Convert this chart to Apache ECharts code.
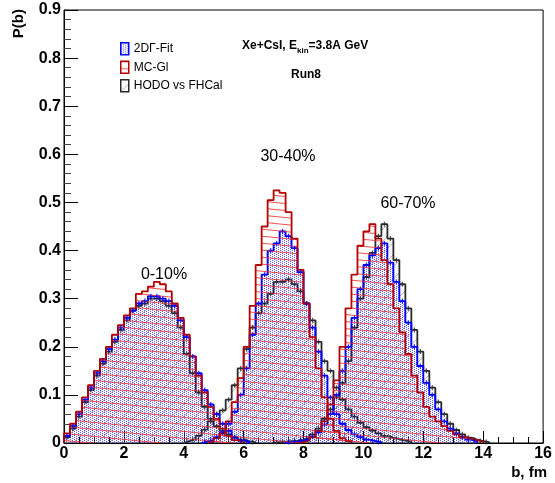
<!DOCTYPE html>
<html>
<head>
<meta charset="utf-8">
<script src="https://cdn.jsdelivr.net/npm/echarts@6/dist/echarts.min.js"></script>
<style>
  html, body { margin: 0; padding: 0; background: #fff; }
  #main { width: 555px; height: 483px; }
</style>
</head>
<body>
<div id="main"></div>
<script>
// all histograms have the same bin width, fm
var binWidth = 0.2;

// 0-10%
var fit0Start = 0.0;
var fit0 = [0.015,0.035,0.06,0.09,0.115,0.145,0.17,0.195,0.215,0.24,0.26,0.275,0.29,0.295,0.305,0.305,0.3,0.295,0.285,0.255,0.22,0.18,0.145,0.11,0.08,0.06,0.04,0.025,0.012,0.005,0.002];
var mc0Start = 0.0;
var mc0 = [0.02,0.04,0.065,0.095,0.12,0.15,0.175,0.2,0.225,0.245,0.265,0.28,0.31,0.315,0.325,0.335,0.33,0.315,0.29,0.26,0.225,0.18,0.14,0.105,0.075,0.05,0.03,0.015,0.006,0.002];
var hodo0Start = 0.0;
var hodo0 = [0.012,0.03,0.055,0.085,0.11,0.14,0.165,0.19,0.21,0.235,0.255,0.275,0.285,0.29,0.3,0.3,0.295,0.285,0.27,0.24,0.185,0.145,0.105,0.075,0.05,0.035,0.025,0.018,0.012,0.007,0.004,0.002];

// 30-40%
var fit30Start = 4.6;
var fit30 = [0.003,0.006,0.012,0.022,0.04,0.065,0.1,0.155,0.225,0.29,0.35,0.4,0.415,0.44,0.43,0.405,0.355,0.29,0.24,0.19,0.14,0.095,0.06,0.04,0.027,0.018,0.012,0.007,0.004,0.002];
var mc30Start = 4.8;
var mc30 = [0.004,0.01,0.02,0.045,0.085,0.135,0.2,0.285,0.37,0.45,0.505,0.525,0.52,0.48,0.425,0.36,0.29,0.22,0.155,0.095,0.05,0.025,0.01,0.004];
var hodo30Start = 4.0;
var hodo30 = [0.004,0.008,0.015,0.028,0.045,0.06,0.068,0.09,0.12,0.155,0.195,0.24,0.27,0.29,0.31,0.335,0.335,0.34,0.33,0.315,0.29,0.255,0.21,0.17,0.15,0.115,0.09,0.07,0.055,0.042,0.033,0.026,0.02,0.015,0.011,0.008,0.005,0.003];

// 60-70%
var fit60Start = 7.4;
var fit60 = [0.002,0.003,0.005,0.008,0.013,0.022,0.038,0.06,0.1,0.15,0.2,0.26,0.32,0.37,0.39,0.405,0.415,0.375,0.335,0.295,0.25,0.2,0.16,0.125,0.1,0.07,0.045,0.03,0.02,0.012,0.007,0.003];
var mc60Start = 7.8;
var mc60 = [0.002,0.005,0.012,0.025,0.045,0.08,0.13,0.2,0.28,0.35,0.41,0.44,0.455,0.425,0.38,0.33,0.28,0.23,0.185,0.14,0.105,0.075,0.055,0.045,0.035,0.025,0.018,0.013,0.009,0.006,0.003];
var hodo60Start = 7.0;
var hodo60 = [0.002,0.003,0.004,0.005,0.007,0.01,0.018,0.03,0.05,0.07,0.095,0.125,0.17,0.24,0.3,0.345,0.395,0.43,0.455,0.425,0.38,0.33,0.28,0.235,0.19,0.15,0.115,0.085,0.06,0.04,0.027,0.018,0.011,0.007,0.004,0.002];

var legendNames = ['2D\u0393-Fit', 'MC-Gl', 'HODO vs FHCal'];
var classLabels = ['0-10%', '30-40%', '60-70%'];

var font = '"Liberation Sans", Arial, Helvetica, sans-serif';

function makePattern(w, h, draw) {
    var c = document.createElement('canvas');
    c.width = w;
    c.height = h;
    draw(c.getContext('2d'));
    return { image: c, repeat: 'repeat' };
}

var dotPattern = makePattern(4, 2, function (ctx) {
    ctx.fillStyle = 'rgba(60,60,235,0.85)';
    ctx.fillRect(0, 0, 1, 1);
    ctx.fillRect(2, 1, 1, 1);
});
var redPattern = makePattern(70, 7, function (ctx) {
    ctx.strokeStyle = 'rgba(235,50,50,0.85)';
    ctx.lineWidth = 1;
    [-7, 0, 7].forEach(function (o) {
        ctx.beginPath();
        ctx.moveTo(0, o);
        ctx.lineTo(70, o + 7);
        ctx.stroke();
    });
});
var greyPattern = makePattern(12, 12, function (ctx) {
    ctx.strokeStyle = 'rgba(90,90,90,0.45)';
    ctx.lineWidth = 1;
    [-12, 0, 12].forEach(function (o) {
        ctx.beginPath();
        ctx.moveTo(o, 12);
        ctx.lineTo(o + 12, 0);
        ctx.stroke();
    });
});

function stepPoints(start, vals) {
    var pts = [[start, 0]];
    vals.forEach(function (v, i) {
        pts.push([+(start + i * binWidth).toFixed(2), v]);
    });
    pts.push([+(start + vals.length * binWidth).toFixed(2), 0]);
    return pts;
}

function centerPoints(start, vals) {
    return vals.map(function (v, i) {
        return [+(start + (i + 0.5) * binWidth).toFixed(2), v];
    });
}

function histo(name, start, vals, color, pattern, z) {
    return {
        name: name,
        type: 'line',
        step: 'end',
        data: stepPoints(start, vals),
        symbol: 'none',
        silent: true,
        z: z,
        lineStyle: { color: color, width: 1.8 },
        itemStyle: { color: color },
        areaStyle: { color: pattern, opacity: 1 }
    };
}

function errTicks(name, start, vals, color, z) {
    return {
        name: name,
        type: 'scatter',
        data: centerPoints(start, vals),
        symbol: 'rect',
        symbolSize: [1.3, 5],
        silent: true,
        z: z,
        itemStyle: { color: color }
    };
}

var black = '#2a2a2a', blue = '#0000ff', red = '#b40000';

var series = [
    histo(legendNames[2], hodo0Start, hodo0, black, greyPattern, 2),
    histo(legendNames[2], hodo30Start, hodo30, black, greyPattern, 2),
    histo(legendNames[2], hodo60Start, hodo60, black, greyPattern, 2),
    histo(legendNames[0], fit0Start, fit0, blue, dotPattern, 3),
    histo(legendNames[0], fit30Start, fit30, blue, dotPattern, 3),
    histo(legendNames[0], fit60Start, fit60, blue, dotPattern, 3),
    histo(legendNames[1], mc0Start, mc0, red, redPattern, 4),
    histo(legendNames[1], mc30Start, mc30, red, redPattern, 4),
    histo(legendNames[1], mc60Start, mc60, red, redPattern, 4),
    errTicks('hodoErr', hodo0Start, hodo0, black, 5),
    errTicks('hodoErr', hodo30Start, hodo30, black, 5),
    errTicks('hodoErr', hodo60Start, hodo60, black, 5),
    errTicks('fitErr', fit0Start, fit0, blue, 5),
    errTicks('fitErr', fit30Start, fit30, blue, 5),
    errTicks('fitErr', fit60Start, fit60, blue, 5)
];

var myChart = echarts.init(document.getElementById('main'));
myChart.setOption({
    animation: false,
    backgroundColor: '#fff',
    grid: {
        left: 64, right: 8, top: 10, bottom: 40,
        show: true, borderColor: '#000', borderWidth: 1
    },
    xAxis: {
        type: 'value',
        min: 0, max: 16, interval: 2,
        axisLine: { lineStyle: { color: '#000', width: 1 } },
        axisTick: { inside: true, length: 12, lineStyle: { color: '#000' } },
        minorTick: { show: true, splitNumber: 4, length: 6, lineStyle: { color: '#000' } },
        splitLine: { show: false },
        axisLabel: { fontSize: 16, fontWeight: 'bold', color: '#000', fontFamily: font, margin: 3 }
    },
    yAxis: {
        type: 'value',
        min: 0, max: 0.9, interval: 0.1,
        axisLine: { show: true, lineStyle: { color: '#000', width: 1 } },
        axisTick: { show: true, inside: true, length: 14, lineStyle: { color: '#000' } },
        minorTick: { show: true, splitNumber: 5, length: 7, lineStyle: { color: '#444' } },
        splitLine: { show: false },
        axisLabel: {
            fontSize: 16, fontWeight: 'bold', color: '#000', fontFamily: font, margin: 3,
            formatter: function (v) { return v === 0 ? '0' : v.toFixed(1); }
        }
    },
    legend: {
        left: 115, top: 37,
        orient: 'vertical',
        itemWidth: 8, itemHeight: 12, itemGap: 5,
        selectedMode: false,
        textStyle: { fontSize: 12, color: '#000', fontFamily: font },
        data: [
            { name: legendNames[0], icon: 'rect', itemStyle: { color: dotPattern, borderColor: blue, borderWidth: 1.5 } },
            { name: legendNames[1], icon: 'rect', itemStyle: { color: redPattern, borderColor: red, borderWidth: 1.5 } },
            { name: legendNames[2], icon: 'rect', itemStyle: { color: greyPattern, borderColor: black, borderWidth: 1.5 } }
        ]
    },
    graphic: [
        { type: 'text', x: 26, y: 9, rotation: Math.PI / 2,
          style: { text: 'P(b)', font: 'bold 15px ' + font, fill: '#000', align: 'right', verticalAlign: 'bottom' } },
        { type: 'text', x: 547, y: 473,
          style: { text: 'b, fm', font: 'bold 15px ' + font, fill: '#000', align: 'right', verticalAlign: 'middle' } },
        { type: 'text', x: 242, y: 46,
          style: {
              text: '{a|Xe+CsI, E}{s|kin}{a|=3.8A GeV}',
              align: 'left', verticalAlign: 'middle',
              rich: {
                  a: { fontSize: 12, fontWeight: 'bold', fontFamily: font, fill: '#000', lineHeight: 16 },
                  s: { fontSize: 8, fontWeight: 'bold', fontFamily: font, fill: '#000', lineHeight: 16, padding: [9, 0, 0, 0] }
              }
          } },
        { type: 'text', x: 306, y: 75,
          style: { text: 'Run8', font: 'bold 12px ' + font, fill: '#000', align: 'center', verticalAlign: 'middle' } },
        { type: 'text', x: 164, y: 275,
          style: { text: classLabels[0], font: '16px ' + font, fill: '#000', align: 'center', verticalAlign: 'middle' } },
        { type: 'text', x: 288, y: 157,
          style: { text: classLabels[1], font: '16px ' + font, fill: '#000', align: 'center', verticalAlign: 'middle' } },
        { type: 'text', x: 408, y: 204,
          style: { text: classLabels[2], font: '16px ' + font, fill: '#000', align: 'center', verticalAlign: 'middle' } }
    ],
    series: series
});
</script>
</body>
</html>
